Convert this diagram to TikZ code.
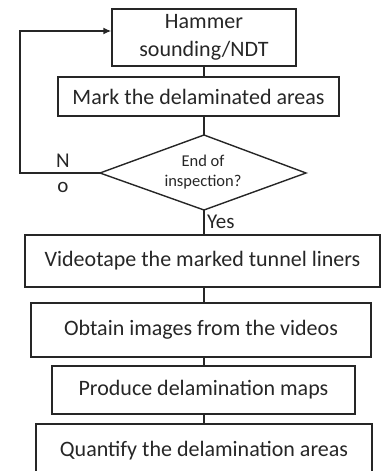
\documentclass[tikz,border=0pt]{standalone}
\usepackage{fontspec}
\setmainfont{Carlito}
\usetikzlibrary{arrows.meta}
\begin{document}
\begin{tikzpicture}[x=1pt,y=-1pt,
  box/.style={draw=black!85,line width=1.4pt,inner sep=0pt,font=\fontsize{22}{28}\selectfont,text=black!85},
  conn/.style={draw=black!85,line width=1.4pt},
  lbl/.style={inner sep=0pt,font=\fontsize{21}{25}\selectfont,text=black!85}]
\useasboundingbox (0,0) rectangle (381,471);
\clip (0,0) rectangle (381,471);
\node[box,minimum width=184pt,minimum height=57pt,align=center] (h) at (204,37.5) {Hammer\\sounding/NDT};
\node[box,minimum width=281pt,minimum height=39pt] (m) at (198.5,96.5) {Mark the delaminated areas};
% decision diamond
\coordinate (dt) at (204,135);
\coordinate (dl) at (100,173);
\coordinate (db) at (204,210);
\coordinate (dr) at (306,173);
\draw[conn,line join=miter] (dt) -- (dr) -- (db) -- (dl) -- cycle;
\node[inner sep=0pt,align=center,font=\fontsize{16.5}{20}\selectfont,text=black!85] (d) at (203,172.5) {End of\\inspection?};
\node[box,minimum width=355pt,minimum height=52pt] (v) at (202.5,261) {Videotape the marked tunnel liners};
\node[box,minimum width=340pt,minimum height=54pt] (o) at (201,330) {Obtain images from the videos};
\node[box,minimum width=303pt,minimum height=48pt] (p) at (203.5,390) {Produce delamination maps};
\node[box,minimum width=336pt,minimum height=54pt] (q) at (204,451) {Quantify the delamination areas};
\coordinate (lc) at (20,31);
\draw[conn] (h.south) -- (h.south |- m.north);
\draw[conn] (h.south |- m.south) -- (dt);
\draw[conn] (db) -- (db |- v.north);
\draw[conn] (db |- v.south) -- (db |- o.north);
\draw[conn] (db |- o.south) -- (db |- p.north);
\draw[conn] (db |- p.south) -- (db |- q.north);
\draw[conn,-{Latex[length=8pt,width=7pt]}] (dl) -| (lc) -- (h.west |- lc);
\node[lbl] (n1) at (63,161) {N};
\node[lbl] (n2) at (63,187) {o};
\node[lbl,anchor=west] (y) at (207,222) {Yes};
\end{tikzpicture}
\end{document}
